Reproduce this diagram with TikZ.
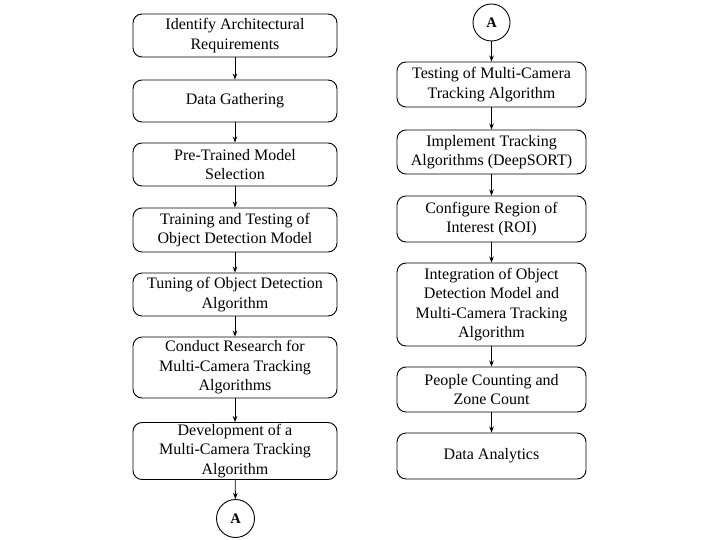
\documentclass[tikz,border=0pt]{standalone}
\usepackage{fontspec}
\setmainfont{Liberation Serif}
\usetikzlibrary{arrows.meta}
\begin{document}
\begin{tikzpicture}[x=1pt,y=-1pt,
  box/.style={draw,line width=0.9pt,rounded corners=9pt,align=center,inner sep=0pt,
    font=\fontsize{16}{19.5}\selectfont},
  lbox/.style={box,minimum width=204pt},
  rbox/.style={box,minimum width=189pt},
  conn/.style={draw,circle,line width=0.9pt,inner sep=0pt,font=\fontsize{14.5}{16}\selectfont\bfseries},
  arr/.style={-{Stealth[length=6pt,width=4.5pt]},line width=0.9pt}]
\useasboundingbox (0,0) rectangle (720,540);
\fill[white] (0,0) rectangle (720,540);
% left column
\node[lbox,minimum height=43pt] (l1) at (235,35.5) {Identify Architectural\\Requirements};
\node[lbox,minimum height=42pt] (l2) at (235,101) {Data Gathering};
\node[lbox,minimum height=43pt] (l3) at (235,164.5) {Pre-Trained Model\\Selection};
\node[lbox,minimum height=44pt] (l4) at (235,230) {Training and Testing of\\Object Detection Model};
\node[lbox,minimum height=43pt] (l5) at (235,294.5) {Tuning of Object Detection\\Algorithm};
\node[lbox,minimum height=61pt] (l6) at (235,367.5) {Conduct Research for\\Multi-Camera Tracking\\Algorithms};
\node[lbox,minimum height=57pt] (l7) at (235,451) {Development of a\\Multi-Camera Tracking\\Algorithm};
\node[conn,minimum size=38pt] (la) at (235.5,518.5) {A};
% right column
\node[conn,minimum size=37pt] (ra) at (491.5,22.5) {A};
\node[rbox,minimum height=45pt] (r1) at (491.5,84.5) {Testing of Multi-Camera\\Tracking Algorithm};
\node[rbox,minimum height=44pt] (r2) at (491.5,152) {Implement Tracking\\Algorithms (DeepSORT)};
\node[rbox,minimum height=46pt] (r3) at (491.5,219) {Configure Region of\\Interest (ROI)};
\node[rbox,minimum height=83pt] (r4) at (491.5,304.5) {Integration of Object\\Detection Model and\\Multi-Camera Tracking\\Algorithm};
\node[rbox,minimum height=45pt] (r5) at (491.5,389.5) {People Counting and\\Zone Count};
\node[rbox,minimum height=46pt] (r6) at (491.5,456) {Data Analytics};
% connectors
\foreach \a/\b in {l1/l2,l2/l3,l3/l4,l4/l5,l5/l6,l6/l7,l7/la,ra/r1,r1/r2,r2/r3,r3/r4,r4/r5,r5/r6}
  \draw[arr] (\a) -- (\b);
\end{tikzpicture}
\end{document}
